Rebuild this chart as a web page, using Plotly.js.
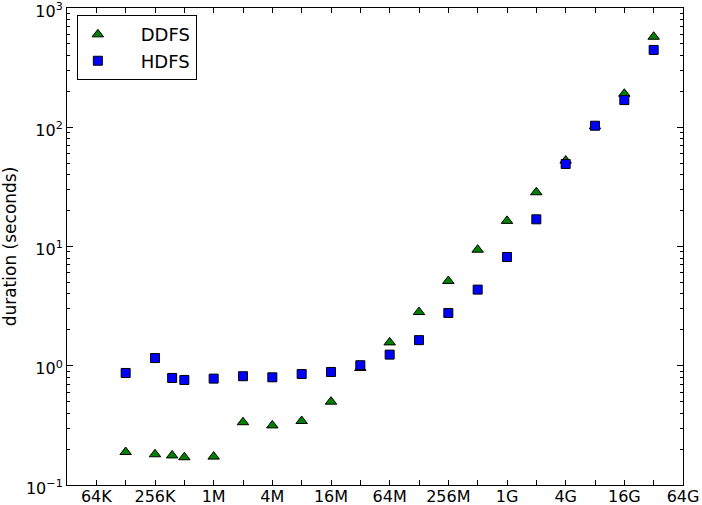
<!DOCTYPE html>
<html>
<head>
<meta charset="utf-8">
<script src="https://cdn.plot.ly/plotly-3.0.1.min.js"></script>
<style>html,body{margin:0;padding:0;background:#fff;}#chart{width:702px;height:505px;}</style>
</head>
<body>
<div id="chart"></div>
<script>
// File sizes in bytes (128K ... 32G)
const sizeBytes = [131072, 262144, 393216, 524288, 1048576, 2097152, 4194304, 8388608,
  16777216, 33554432, 67108864, 134217728, 268435456, 536870912, 1073741824,
  2147483648, 4294967296, 8589934592, 17179869184, 34359738368];
// duration (seconds)
const ddfs = [0.189, 0.181, 0.177, 0.171, 0.173, 0.336, 0.316, 0.344, 0.50, 0.957,
  1.57, 2.82, 5.14, 9.4, 16.4, 28.5, 52.5, 102, 191, 574];
const hdfs = [0.87, 1.16, 0.79, 0.76, 0.78, 0.817, 0.80, 0.853, 0.887, 1.01,
  1.24, 1.64, 2.77, 4.35, 8.16, 16.9, 49.2, 103, 169, 445];
const seriesNames = ['DDFS', 'HDFS'];
// x tick labels at every 4x (2^16 ... 2^36); unlabeled ticks at the odd powers of 2 in between
const xTickExp = [16, 18, 20, 22, 24, 26, 28, 30, 32, 34, 36];
const xTickText = ['64K', '256K', '1M', '4M', '16M', '64M', '256M', '1G', '4G', '16G', '64G'];
const xMinorExp = [17, 19, 21, 23, 25, 27, 29, 31, 33, 35];
const yTickVals = [0.1, 1, 10, 100, 1000];
const yTickText = ['10<sup>\u22121</sup>','10<sup>0</sup>','10<sup>1</sup>','10<sup>2</sup>','10<sup>3</sup>'];

const xTickVals = xTickExp.map(e => Math.pow(2, e));
const xMinorVals = xMinorExp.map(e => Math.pow(2, e));
const yMinor = [];
for (let d = -1; d < 3; d++) for (let k = 2; k <= 9; k++) yMinor.push(k * Math.pow(10, d));

const font = 'DejaVu Sans, Liberation Sans, sans-serif';
const pad = '\u00a0\u00a0\u00a0\u00a0';

const traces = [
  {x: sizeBytes, y: ddfs, name: pad + seriesNames[0], type: 'scatter', mode: 'markers',
   marker: {symbol: 'triangle-up', size: 10, color: '#008000', line: {color: '#000', width: 1}}},
  {x: sizeBytes, y: hdfs, name: pad + seriesNames[1], type: 'scatter', mode: 'markers',
   marker: {symbol: 'square', size: 9, color: '#0000ff', line: {color: '#000', width: 1}}}
];

const layout = {
  width: 702, height: 505,
  margin: {l: 67, r: 19, t: 8, b: 20, pad: 0},
  paper_bgcolor: '#fff', plot_bgcolor: '#fff',
  font: {family: font, size: 16, color: '#000'},
  showlegend: true,
  legend: {x: 0.016, y: 0.985, xanchor: 'left', yanchor: 'top',
    bordercolor: '#000', borderwidth: 1, bgcolor: '#fff',
    font: {family: font, size: 18, color: '#000'}},
  xaxis: {type: 'log', range: [Math.log10(Math.pow(2,15)), Math.log10(Math.pow(2,36))],
    tickmode: 'array', tickvals: xTickVals, ticktext: xTickText,
    ticks: 'inside', ticklen: 5, tickwidth: 1, tickcolor: '#000',
    minor: {tickmode: 'array', tickvals: xMinorVals, ticks: 'inside', ticklen: 5, tickwidth: 1, tickcolor: '#000', showgrid: false},
    showline: true, linecolor: '#000', linewidth: 1, mirror: 'allticks',
    showgrid: false, zeroline: false, automargin: false, ticklabeloverflow: 'allow',
    ticklabelstandoff: -3,
    tickfont: {family: font, size: 16}},
  yaxis: {type: 'log', range: [-1, 3],
    tickmode: 'array', tickvals: yTickVals, ticktext: yTickText,
    ticks: 'inside', ticklen: 6, tickwidth: 1, tickcolor: '#000',
    minor: {tickmode: 'array', tickvals: yMinor, ticks: 'inside', ticklen: 3, tickcolor: '#000', showgrid: false},
    showline: true, linecolor: '#000', linewidth: 1, mirror: 'allticks',
    showgrid: false, zeroline: false, automargin: false, ticklabeloverflow: 'allow',
    ticklabelshift: 3,
    tickfont: {family: font, size: 16},
    title: {text: 'duration (seconds)', font: {family: font, size: 17}, standoff: 7}}
};

Plotly.newPlot('chart', traces, layout, {displayModeBar: false, staticPlot: true});
</script>
</body>
</html>
